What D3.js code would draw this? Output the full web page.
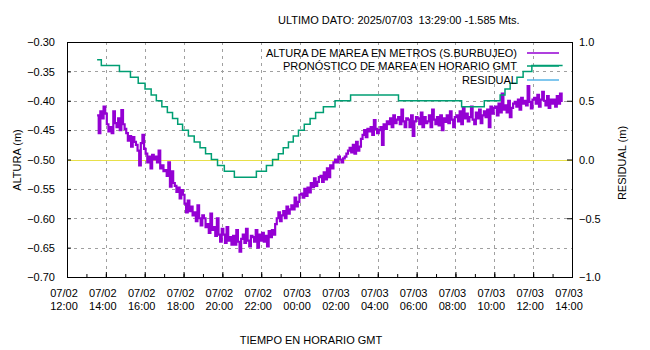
<!DOCTYPE html>
<html><head><meta charset="utf-8">
<script src="https://cdn.jsdelivr.net/npm/d3@7"></script>
<style>
body{margin:0;background:#fff}
svg{display:block}
text{font-family:"Liberation Sans",Arial,sans-serif;font-size:11px;fill:#000}
</style>
</head><body><svg id="c" width="650" height="350"></svg>
<script>
// ---------- DATA ----------
const titleText = "ULTIMO DATO: 2025/07/03  13:29:00 -1.585 Mts.";
const legendLabels = ["ALTURA DE MAREA EN METROS (S.BURBUJEO)", "PRONÓSTICO DE MAREA EN HORARIO GMT", "RESIDUAL"];
const yLabel = "ALTURA (m)";
const y2Label = "RESIDUAL (m)";
const xLabel = "TIEMPO EN HORARIO GMT";
const yTicks = [-0.30, -0.35, -0.40, -0.45, -0.50, -0.55, -0.60, -0.65, -0.70];
const y2Ticks = [1.0, 0.5, 0.0, -0.5, -1.0];
const xStart = "2025-07-02T12:00:00Z";
const xEnd = "2025-07-03T14:00:00Z";

// measured height, one value every 5 minutes starting at alturaStart
const alturaStart = "2025-07-02T13:33:00Z";
const alturaStepMinutes = 5;
const alturaValues = [
 -0.425,-0.455,-0.418,-0.430,-0.410,-0.422,
 -0.440,-0.452,-0.445,-0.455,-0.418,-0.438,
 -0.445,-0.430,-0.450,-0.416,-0.440,-0.448,
 -0.455,-0.468,-0.460,-0.478,-0.462,-0.470,
 -0.475,-0.485,-0.510,-0.472,-0.458,-0.482,
 -0.490,-0.505,-0.495,-0.515,-0.492,-0.500,
 -0.495,-0.505,-0.485,-0.515,-0.510,-0.520,
 -0.518,-0.528,-0.505,-0.546,-0.520,-0.540,
 -0.545,-0.555,-0.548,-0.566,-0.552,-0.560,
 -0.575,-0.590,-0.570,-0.588,-0.580,-0.595,
 -0.590,-0.605,-0.578,-0.600,-0.612,-0.595,
 -0.600,-0.615,-0.610,-0.625,-0.592,-0.620,
 -0.615,-0.630,-0.600,-0.628,-0.640,-0.618,
 -0.628,-0.642,-0.615,-0.638,-0.632,-0.645,
 -0.630,-0.645,-0.620,-0.640,-0.657,-0.635,
 -0.628,-0.642,-0.618,-0.638,-0.648,-0.630,
 -0.632,-0.640,-0.620,-0.650,-0.628,-0.638,
 -0.625,-0.640,-0.630,-0.648,-0.622,-0.632,
 -0.620,-0.628,-0.610,-0.600,-0.590,-0.605,
 -0.595,-0.588,-0.600,-0.580,-0.592,-0.585,
 -0.578,-0.585,-0.565,-0.580,-0.572,-0.560,
 -0.558,-0.565,-0.550,-0.562,-0.548,-0.556,
 -0.540,-0.547,-0.532,-0.545,-0.538,-0.530,
 -0.528,-0.538,-0.522,-0.534,-0.515,-0.530,
 -0.510,-0.515,-0.505,-0.500,-0.505,-0.495,
 -0.500,-0.505,-0.498,-0.495,-0.490,-0.485,
 -0.480,-0.488,-0.475,-0.490,-0.470,-0.485,
 -0.478,-0.465,-0.458,-0.450,-0.462,-0.448,
 -0.452,-0.445,-0.458,-0.433,-0.448,-0.455,
 -0.450,-0.445,-0.475,-0.440,-0.448,-0.435,
 -0.440,-0.430,-0.445,-0.425,-0.438,-0.432,
 -0.428,-0.440,-0.415,-0.435,-0.445,-0.430,
 -0.432,-0.445,-0.425,-0.460,-0.435,-0.428,
 -0.430,-0.440,-0.420,-0.445,-0.428,-0.438,
 -0.435,-0.425,-0.445,-0.415,-0.432,-0.440,
 -0.428,-0.442,-0.425,-0.450,-0.430,-0.436,
 -0.425,-0.438,-0.418,-0.432,-0.445,-0.428,
 -0.425,-0.435,-0.418,-0.440,-0.412,-0.430,
 -0.422,-0.435,-0.428,-0.410,-0.432,-0.440,
 -0.420,-0.430,-0.415,-0.438,-0.425,-0.418,
 -0.428,-0.415,-0.445,-0.410,-0.422,-0.412,
 -0.410,-0.425,-0.405,-0.420,-0.388,-0.415,
 -0.408,-0.420,-0.400,-0.428,-0.412,-0.405,
 -0.402,-0.410,-0.398,-0.415,-0.395,-0.405,
 -0.400,-0.408,-0.375,-0.402,-0.413,-0.398,
 -0.395,-0.405,-0.390,-0.410,-0.398,-0.385,
 -0.400,-0.408,-0.392,-0.412,-0.398,-0.405,
 -0.398,-0.410,-0.392,-0.405,-0.388,-0.402
];

// forecast: step changes (time of change, new value)
const pronosticoTimes = [
 "2025-07-02T13:33","2025-07-02T13:46","2025-07-02T14:42","2025-07-02T15:16","2025-07-02T15:40",
 "2025-07-02T16:01","2025-07-02T16:20","2025-07-02T16:36","2025-07-02T16:53","2025-07-02T17:10",
 "2025-07-02T17:26","2025-07-02T17:42","2025-07-02T17:57","2025-07-02T18:15","2025-07-02T18:33",
 "2025-07-02T18:51","2025-07-02T19:08","2025-07-02T19:26","2025-07-02T19:45","2025-07-02T20:06",
 "2025-07-02T20:37","2025-07-02T21:45","2025-07-02T22:16","2025-07-02T22:35","2025-07-02T22:53",
 "2025-07-02T23:08","2025-07-02T23:24","2025-07-02T23:39","2025-07-02T23:55","2025-07-03T00:13",
 "2025-07-03T00:31","2025-07-03T00:48","2025-07-03T01:12","2025-07-03T01:48","2025-07-03T02:36",
 "2025-07-03T05:04","2025-07-03T08:19","2025-07-03T09:29","2025-07-03T10:18","2025-07-03T10:33",
 "2025-07-03T10:49","2025-07-03T11:10","2025-07-03T11:29","2025-07-03T11:56","2025-07-03T13:31"
];
const pronosticoValues = [
 -0.33,-0.34,-0.35,-0.36,-0.37,
 -0.38,-0.39,-0.40,-0.41,-0.42,
 -0.43,-0.44,-0.45,-0.46,-0.47,
 -0.48,-0.49,-0.50,-0.51,-0.52,
 -0.53,-0.52,-0.51,-0.50,-0.49,
 -0.48,-0.47,-0.46,-0.45,-0.44,
 -0.43,-0.42,-0.41,-0.40,-0.39,
 -0.40,-0.41,-0.40,-0.39,-0.38,
 -0.37,-0.36,-0.35,-0.34,-0.34
];

const colAltura = "#9400d3", colPron = "#009e73", colRes = "#56b4e9", colZero = "#e8e04a";

// ---------- CHART ----------
const svg = d3.select("#c");
const m = {l:67, r:572, t:42, b:277};
const x = d3.scaleUtc().domain([new Date(xStart), new Date(xEnd)]).range([m.l, m.r]);
const y = d3.scaleLinear().domain([-0.70, -0.30]).range([m.b, m.t]);
const y2 = d3.scaleLinear().domain([-1, 1]).range([m.b, m.t]);

const t0 = new Date(alturaStart).getTime();
const altura = alturaValues.map((v,i)=>({t:new Date(t0 + i*alturaStepMinutes*60000), v}));
const pron = pronosticoTimes.map((s,i)=>({t:new Date(s+":00Z"), v:pronosticoValues[i]}));

// grid
const xMajor = d3.utcHour.every(2).range(new Date(xStart), new Date(new Date(xEnd).getTime()+1));
const xMinor = d3.utcHour.every(1).range(new Date(xStart), new Date(new Date(xEnd).getTime()+1));
const grid = svg.append("g").attr("stroke","#a0a0a0").attr("stroke-width",1).attr("stroke-dasharray","3,4");
grid.selectAll("line.gx").data(xMajor.slice(1,-1)).join("line")
  .attr("x1",d=>Math.round(x(d))+0.5).attr("x2",d=>Math.round(x(d))+0.5).attr("y1",m.t).attr("y2",m.b);
grid.selectAll("line.gy").data(yTicks.slice(1,-1)).join("line")
  .attr("x1",m.l).attr("x2",m.r).attr("y1",d=>Math.round(y(d))+0.5).attr("y2",d=>Math.round(y(d))+0.5);

// zero axis of residual
svg.append("line").attr("x1",m.l).attr("x2",m.r)
  .attr("y1",Math.round(y2(0))+0.5).attr("y2",Math.round(y2(0))+0.5)
  .attr("stroke",colZero).attr("stroke-width",1.2);

// axes
const axB = svg.append("g").attr("transform",`translate(0,${m.b})`)
  .call(d3.axisBottom(x).tickValues(xMajor).tickSize(-5).tickFormat(""));
const axBm = svg.append("g").attr("transform",`translate(0,${m.b})`)
  .call(d3.axisBottom(x).tickValues(xMinor).tickSize(-3).tickFormat(""));
const axL = svg.append("g").attr("transform",`translate(${m.l},0)`)
  .call(d3.axisLeft(y).tickValues(yTicks).tickSize(-4).tickPadding(12).tickFormat(d3.format(".2f")));
const axR = svg.append("g").attr("transform",`translate(${m.r},0)`)
  .call(d3.axisRight(y2).tickValues(y2Ticks).tickSize(-5).tickPadding(12).tickFormat(d3.format(".1f")));
[axB,axBm,axL,axR].forEach(g=>{
  g.select(".domain").remove();
  g.selectAll(".tick line").attr("stroke","#000");
  g.selectAll("text").attr("font-family",null).attr("font-size",null);
});
axL.selectAll(".tick text").attr("x",-12).attr("dy","0.35em");
axR.selectAll(".tick text").attr("x",7).attr("dy","0.35em");

// bottom two-line labels
const fD = d3.utcFormat("%m/%d"), fH = d3.utcFormat("%H:%M");
const xl = svg.append("g");
xMajor.forEach(d=>{
  const t = xl.append("text").attr("text-anchor","middle");
  t.append("tspan").attr("x",x(d)-3).attr("y",297).text(fD(d));
  t.append("tspan").attr("x",x(d)-3).attr("y",310).text(fH(d));
});

// series
svg.append("path").datum(altura)
  .attr("fill","none").attr("stroke",colAltura).attr("stroke-width",2.2)
  .attr("d",d3.line().curve(d3.curveStepAfter).x(d=>x(d.t)).y(d=>y(d.v)));
svg.append("path").datum(pron)
  .attr("fill","none").attr("stroke",colPron).attr("stroke-width",1.5)
  .attr("d",d3.line().curve(d3.curveStepAfter).x(d=>x(d.t)).y(d=>y(d.v)));

// border
svg.append("rect").attr("x",m.l+0.5).attr("y",m.t+0.5).attr("width",m.r-m.l).attr("height",m.b-m.t)
  .attr("fill","none").attr("stroke","#000").attr("stroke-width",1);

// legend
const legY = [53, 66, 80];
const legCols = [colAltura, colPron, colRes];
legendLabels.forEach((lab,i)=>{
  svg.append("text").attr("x",517).attr("y",legY[i]).attr("dy","0.35em").attr("text-anchor","end").text(lab);
  svg.append("line").attr("x1",527).attr("x2",559).attr("y1",legY[i]).attr("y2",legY[i])
    .attr("stroke",legCols[i]).attr("stroke-width",1.5);
});

// title and axis labels
svg.append("text").attr("x",278).attr("y",24).style("white-space","pre").text(titleText);
svg.append("text").attr("transform","translate(21,160) rotate(-90)").attr("text-anchor","middle").text(yLabel);
svg.append("text").attr("transform","translate(626,163) rotate(-90)").attr("text-anchor","middle").text(y2Label);
svg.append("text").attr("x",311).attr("y",344).attr("text-anchor","middle").text(xLabel);
</script>
</body></html>
